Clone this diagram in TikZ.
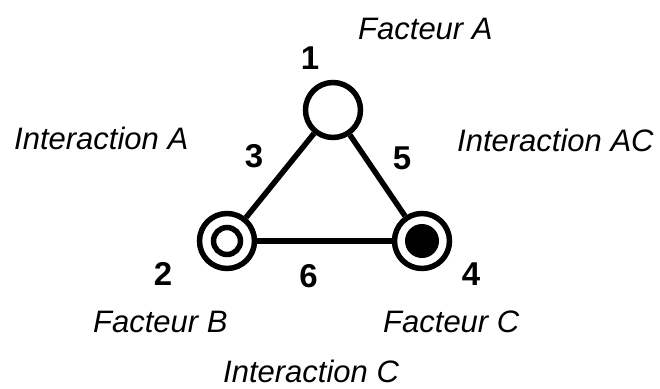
\documentclass[tikz,border=0pt]{standalone}
\usepackage{fontspec}
\setmainfont{Liberation Sans}
\begin{document}
\begin{tikzpicture}[x=1pt,y=-1pt,
  factor/.style={circle,draw,line width=5.5pt,minimum size=55pt,inner sep=0pt,fill=white},
  innerring/.style={circle,draw,line width=5.5pt,minimum size=27pt,inner sep=0pt},
  innerdot/.style={circle,fill=black,minimum size=34pt,inner sep=0pt},
  link/.style={line width=5.5pt},
  lbl/.style={anchor=base west,inner sep=0pt,font=\fontsize{31}{36}\selectfont\itshape},
  num/.style={anchor=base,inner sep=0pt,font=\fontsize{33}{38}\selectfont\bfseries}]
  \useasboundingbox (0,0) rectangle (660,388);

  % the three factors
  \node[factor] (n1) at (333,110) {};
  \node[factor] (n2) at (227,241) {};
  \node[factor] (n4) at (422,241) {};
  \node[innerring] (n2in) at (n2.center) {};
  \node[innerdot] (n4in) at (n4.center) {};

  % interaction edges
  \draw[link] (n1) -- (n2);
  \draw[link] (n1) -- (n4);
  \draw[link] (n2) -- (n4);

  % numbers
  \node[num] (t1) at (310,69) {1};
  \node[num] (t3) at (254,167) {3};
  \node[num] (t5) at (402,169) {5};
  \node[num] (t2) at (163,285) {2};
  \node[num] (t6) at (308.5,287) {6};
  \node[num] (t4) at (471,285) {4};

  % labels
  \node[lbl] (fa) at (358,39) {Facteur A};
  \node[lbl] (ia) at (14,149) {Interaction A};
  \node[lbl] (iac) at (457,151) {Interaction AC};
  \node[lbl] (fb) at (93,332) {Facteur B};
  \node[lbl] (fc) at (383,332) {Facteur C};
  \node[lbl] (ic) at (223,382) {Interaction C};
\end{tikzpicture}
\end{document}
